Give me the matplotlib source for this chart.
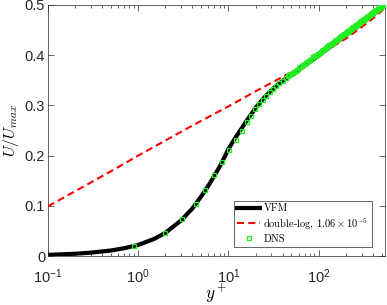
import matplotlib
matplotlib.use('Agg')
import matplotlib.pyplot as plt
from matplotlib.font_manager import FontProperties

# ---------------- data ----------------
vfm_yplus = [0.1, 0.2, 0.3, 0.5, 0.7, 1, 1.5, 2, 3, 4, 5, 6, 7, 8, 9, 10, 12, 14,
             16, 18, 20, 23, 26, 30, 35, 40, 45, 50, 60, 70, 85, 100, 120, 150,
             180, 220, 270, 330, 400, 470, 545]
vfm_u = [0.0022, 0.0045, 0.0067, 0.011, 0.0155, 0.022, 0.034, 0.046, 0.071, 0.095,
         0.119, 0.140, 0.160, 0.178, 0.196, 0.213, 0.236, 0.254, 0.270, 0.283, 0.295,
         0.308, 0.319, 0.330, 0.341, 0.349, 0.355, 0.360, 0.370, 0.379, 0.390, 0.399,
         0.410, 0.423, 0.433, 0.445, 0.457, 0.470, 0.481, 0.491, 0.501]

dlog_yplus = [0.1, 0.2, 0.5, 1, 2, 4, 10, 20, 40, 70, 100, 140, 200, 300, 400, 545]
dlog_u = [0.099, 0.129, 0.169, 0.200, 0.230, 0.260, 0.298, 0.328, 0.357, 0.381,
          0.398, 0.416, 0.433, 0.456, 0.473, 0.494]

dns_yplus = [0.91, 1.96, 3.08, 4.32, 5.57, 7.0, 8.53, 10.2, 12.2, 14.0, 15.9, 17.9,
             19.9, 22.1, 24.3, 26.4, 29.0, 31.3, 33.8, 36.8, 40.1, 43.6,
             45.5, 47.5, 49.5, 51.5, 53.5, 55.5, 57.5, 60, 62.5, 65, 67.5, 70, 72.5,
             75, 78, 81, 84, 87, 90, 93, 96, 99, 102.5, 106, 109.5, 113, 116.5, 120,
             124, 128, 132, 136, 140, 144, 148, 152, 156, 160.5, 165, 169.5, 174,
             178.5, 183, 187.5, 192, 197, 202, 207, 212, 217, 222, 227, 232, 237,
             243, 249, 255, 261, 267, 273, 279, 285, 291, 297, 303, 309, 315, 321,
             328, 335, 342, 349, 356, 363, 370, 377, 384, 391, 398, 405, 412, 419,
             426, 433, 440, 447, 454, 461, 468, 475, 482, 489, 496, 503, 510, 517,
             524, 531, 538]
dns_u = [0.020, 0.045, 0.073, 0.103, 0.132, 0.161, 0.187, 0.211, 0.232, 0.250,
         0.266, 0.279, 0.292, 0.302, 0.311, 0.319, 0.326, 0.332, 0.338, 0.344,
         0.349, 0.355,
         0.358, 0.360, 0.363, 0.365, 0.367, 0.369, 0.371, 0.374, 0.376, 0.378,
         0.381, 0.383, 0.385, 0.387, 0.389, 0.391, 0.393, 0.396, 0.398, 0.399,
         0.401, 0.403, 0.405, 0.407, 0.409, 0.411, 0.413, 0.414, 0.416, 0.418,
         0.420, 0.422, 0.423, 0.425, 0.427, 0.428, 0.430, 0.431, 0.433, 0.435,
         0.436, 0.438, 0.439, 0.441, 0.442, 0.443, 0.445, 0.446, 0.448, 0.449,
         0.450, 0.452, 0.453, 0.454, 0.456, 0.457, 0.459, 0.460, 0.461, 0.463,
         0.464, 0.465, 0.466, 0.468, 0.469, 0.470, 0.471, 0.472, 0.473, 0.475,
         0.476, 0.477, 0.478, 0.479, 0.480, 0.482, 0.483, 0.484, 0.485, 0.486,
         0.487, 0.488, 0.489, 0.490, 0.491, 0.491, 0.492, 0.493, 0.494, 0.495,
         0.496, 0.497, 0.498, 0.499, 0.499, 0.500, 0.501, 0.502, 0.502]

legend_labels = ['VFM', r'double-log, $1.06\times10^{-5}$', 'DNS']
xticks = [0.1, 1, 10, 100]
xtick_labels = [r'$10^{-1}$', r'$10^{0}$', r'$10^{1}$', r'$10^{2}$']
yticks = [0, 0.1, 0.2, 0.3, 0.4, 0.5]
ytick_labels = ['0', '0.1', '0.2', '0.3', '0.4', '0.5']
x_label = r'$y^+$'
y_label = r'$U/U_{max}$'

# ---------------- style ----------------
plt.rcParams['font.family'] = ['Liberation Sans', 'DejaVu Sans']
plt.rcParams['mathtext.fontset'] = 'custom'
plt.rcParams['mathtext.rm'] = 'Liberation Sans'
plt.rcParams['mathtext.it'] = 'Liberation Sans:italic'
plt.rcParams['mathtext.bf'] = 'Liberation Sans:bold'

axcol = '#262626'
fig = plt.figure(figsize=(3.87, 3.05), dpi=100)
ax = fig.add_axes([48 / 387, 1 - 256 / 305, (385 - 48) / 387, (256 - 5) / 305])

ax.plot(vfm_yplus, vfm_u, color='k', lw=3.0, label=legend_labels[0], zorder=2)
ax.plot(dlog_yplus, dlog_u, color='#ff0000', lw=1.5, dashes=(3.4, 2.0),
        label=legend_labels[1], zorder=3)
ax.plot(dns_yplus, dns_u, ls='none', marker='s', ms=3.0, mfc='none',
        mec='#22ee22', mew=0.9, label=legend_labels[2], zorder=4)

ax.set_xscale('log')
ax.set_xlim(0.1, 545)
ax.set_ylim(0, 0.5)
ax.set_xticks(xticks)
ax.set_xticklabels(xtick_labels)
ax.set_yticks(yticks)
ax.set_yticklabels(ytick_labels)

for s in ax.spines.values():
    s.set_color(axcol)
    s.set_linewidth(0.5)
ax.tick_params(which='both', direction='in', top=True, right=True,
               colors=axcol, width=0.5)
ax.tick_params(which='major', length=4, labelsize=10.5)
ax.tick_params(which='minor', length=2)
ax.tick_params(axis='x', which='major', pad=8)
ax.tick_params(axis='y', which='major', pad=2)

ax.set_xlabel(x_label, fontproperties=FontProperties(size=12.5, math_fontfamily='cm'))
ax.set_ylabel(y_label, fontproperties=FontProperties(size=11.5, math_fontfamily='cm'))
ax.xaxis.set_label_coords(0.5, -0.105)
ax.yaxis.set_label_coords(-0.08, 0.5)

leg_fp = FontProperties(family='cmr10', size=7.5, math_fontfamily='cm')
leg = ax.legend(loc='lower right', bbox_to_anchor=(0.961, 0.036), prop=leg_fp,
                fancybox=False, edgecolor=axcol, framealpha=1, borderaxespad=0,
                handlelength=2.2, handletextpad=0.3, labelspacing=0.3,
                borderpad=0.3)
leg.get_frame().set_linewidth(0.5)

fig.savefig('out.png', dpi=100)
